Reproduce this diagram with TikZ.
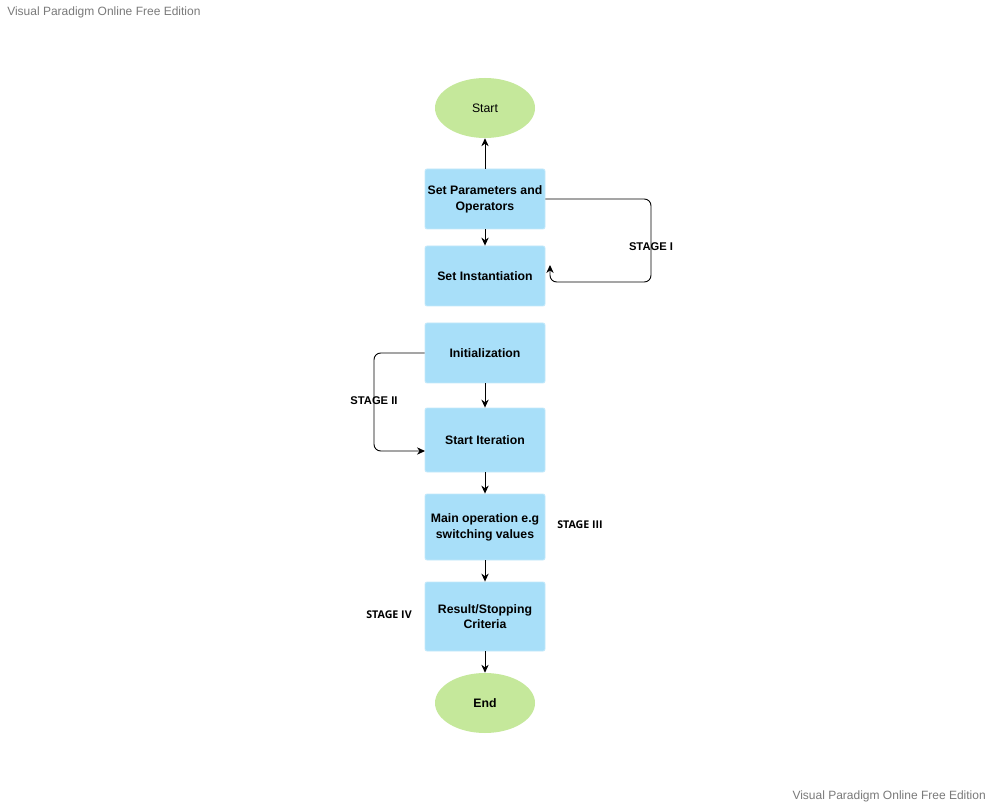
\documentclass[tikz,border=0pt]{standalone}
\usepackage{fontspec}
\setmainfont{Liberation Sans}
\newfontfamily\opensans{Open Sans}
\usetikzlibrary{arrows.meta,shapes.geometric}
\definecolor{boxblue}{HTML}{A8DFF9}
\definecolor{boxedge}{HTML}{C4E9FB}
\definecolor{ovalgreen}{HTML}{C5E89B}
\definecolor{wm}{HTML}{7A7A7A}
\tikzset{
  procbox/.style={rectangle, rounded corners=1.5pt, fill=boxblue, draw=boxedge, line width=0.6pt,
    minimum width=90pt, align=center, font=\fontsize{9.2}{11.8}\selectfont\bfseries, text=black, inner sep=1pt},
  terminal/.style={ellipse, fill=ovalgreen, draw=none, minimum width=75pt, minimum height=45pt,
    font=\fontsize{9.2}{11.8}\selectfont, text=black},
  flow/.style={-{Stealth[length=6pt,width=5.5pt]}, line width=0.7pt, black},
  loopline/.style={flow, rounded corners=5pt},
  stagelbl/.style={font=\fontsize{8.4}{10}\selectfont\bfseries, text=black, inner sep=0pt},
  stagelblb/.style={font=\opensans\fontsize{8}{10}\selectfont\bfseries, text=black, inner sep=0pt},
  watermark/.style={font=\fontsize{9}{11}\selectfont, text=wm, inner sep=0pt}
}
\begin{document}
\begin{tikzpicture}[x=0.75pt,y=-0.75pt]
\useasboundingbox (0,0) rectangle (992,805);
\fill[white] (0,0) rectangle (992,805);
\node[watermark, anchor=west] (wm1) at (7,12) {Visual Paradigm Online Free Edition};
\node[watermark, anchor=east] (wm2) at (986,796) {Visual Paradigm Online Free Edition};

\node[terminal] (start) at (485,108) {Start};
\node[procbox, minimum height=45pt] (params) at (485,199) {Set Parameters and\\Operators};
\node[procbox, minimum height=45pt] (inst) at (485,276) {Set Instantiation};
\node[procbox, minimum height=45pt] (init) at (485,353) {Initialization};
\node[procbox, minimum height=48pt] (iter) at (485,440) {Start Iteration};
\node[procbox, minimum height=49.5pt] (main) at (485,527) {Main operation e.g\\switching values};
\node[procbox, minimum height=51.75pt] (result) at (485,616.5) {Result/Stopping\\Criteria};
\node[terminal, font=\fontsize{9.2}{11.8}\selectfont\bfseries] (end) at (485,703) {End};

\draw[flow] (params.north) -- (start.south);
\draw[flow] (params.south) -- (inst.north);
\draw[flow] (init.south) -- (iter.north);
\draw[flow] (iter.south) -- (main.north);
\draw[flow] (main.south) -- (result.north);
\draw[flow] (result.south) -- (end.north);

\coordinate (s1end) at (550,265);
\draw[loopline] (params.east) -| (651,282) -| (s1end);
\coordinate (s2end) at (425,451);
\draw[loopline] (init.west) -| (374,451) -- (s2end);

\node[stagelbl] (st1) at (651,247) {STAGE I};
\node[stagelbl] (st2) at (374,401) {STAGE II};
\node[stagelblb] (st3) at (580,525) {STAGE III};
\node[stagelblb] (st4) at (389,615) {STAGE IV};
\end{tikzpicture}
\end{document}
